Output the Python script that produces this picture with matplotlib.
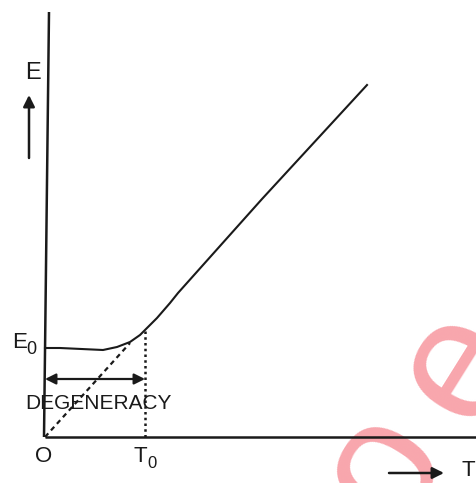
import matplotlib
matplotlib.use("Agg")
import matplotlib.pyplot as plt

# Energy vs temperature (arbitrary units, T0 = 1)
T_curve = [0.0, 0.15, 0.58, 0.72, 0.85, 0.95, 1.02, 1.12, 1.25, 1.33, 2.17, 3.22]
E_curve = [0.89, 0.89, 0.87, 0.90, 0.95, 1.02, 1.09, 1.19, 1.34, 1.44, 2.38, 3.52]
T_asym = [0.0, 0.85]
E_asym = [0.0, 0.94]
T0 = 1.0
E_T0 = 1.09

plt.rcParams['font.family'] = ['Liberation Sans', 'DejaVu Sans']

fig = plt.figure(figsize=(4.76, 4.83), dpi=100)
ax = fig.add_axes([0, 0, 1, 1])
ax.set_xlim(-0.45, 4.31)
ax.set_ylim(-0.46, 4.37)
ax.axis('off')

k = '#1a1a1a'
# watermark
wm = '#f8a6ad'
ax.text(4.14, 0.72, 'e', fontsize=125, color=wm, rotation=58, ha='center', va='center', zorder=0)
ax.text(3.38, -0.30, 'o', fontsize=125, color=wm, rotation=58, ha='center', va='center', zorder=0)

# axes
ax.plot([-0.01, 0.04], [0.0, 4.25], color=k, lw=1.8, solid_capstyle='butt')
ax.plot([0.0, 4.31], [0.0, 0.0], color=k, lw=1.8, solid_capstyle='butt')

# curve
ax.plot(T_curve, E_curve, color=k, lw=1.5)
# asymptote
ax.plot(T_asym, E_asym, color=k, lw=1.6, linestyle=(0, (2.2, 1.8)))
# dotted vertical at T0
ax.plot([T0, T0], [0.0, E_T0], color=k, lw=1.8, linestyle=(0, (1, 1.3)))

# degeneracy arrow
ax.annotate('', xy=(0.0, 0.58), xytext=(T0, 0.58),
            arrowprops=dict(arrowstyle='<|-|>', color=k, lw=1.6,
                            mutation_scale=16, shrinkA=0, shrinkB=0))
ax.text(0.535, 0.335, 'DEGENERACY', fontsize=15, color=k, ha='center', va='center')

# axis arrows
ax.annotate('', xy=(-0.16, 3.42), xytext=(-0.16, 2.79),
            arrowprops=dict(arrowstyle='-|>', color=k, lw=1.8,
                            mutation_scale=17, shrinkA=0, shrinkB=0))
ax.annotate('', xy=(3.99, -0.36), xytext=(3.44, -0.36),
            arrowprops=dict(arrowstyle='-|>', color=k, lw=1.8,
                            mutation_scale=17, shrinkA=0, shrinkB=0))

# labels
ax.text(-0.12, 3.64, 'E', fontsize=17, color=k, ha='center', va='center')
ax.text(-0.255, 0.95, 'E', fontsize=16, color=k, ha='center', va='center')
ax.text(-0.14, 0.87, '0', fontsize=13, color=k, ha='center', va='center')
ax.text(-0.01, -0.20, 'O', fontsize=16, color=k, ha='center', va='center')
ax.text(0.95, -0.20, 'T', fontsize=16, color=k, ha='center', va='center')
ax.text(1.07, -0.27, '0', fontsize=12, color=k, ha='center', va='center')
ax.text(4.165, -0.34, 'T', fontsize=16, color=k, ha='left', va='center')

fig.savefig('out.png', dpi=100)
